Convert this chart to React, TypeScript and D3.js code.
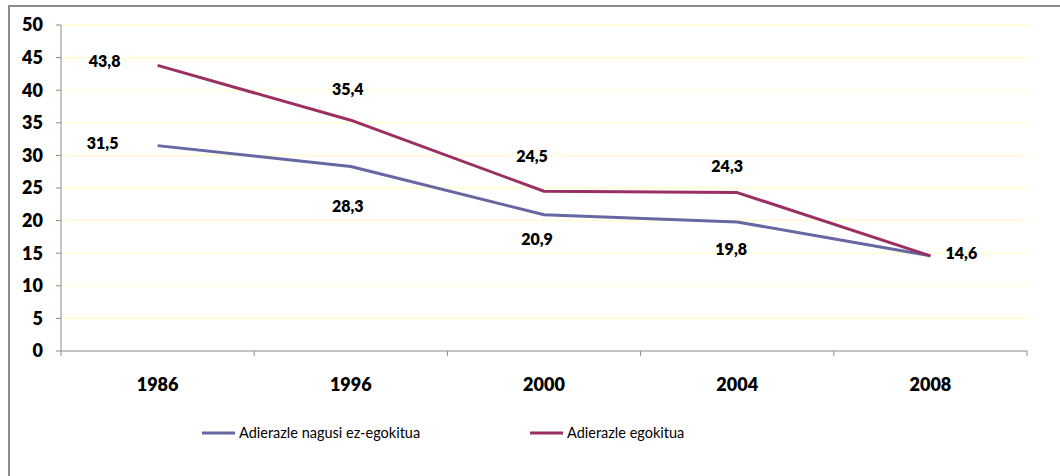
import React from "react";
import * as d3 from "d3";

const years = ["1986", "1996", "2000", "2004", "2008"];
const nonAdjusted = [31.5, 28.3, 20.9, 19.8, 14.6];
const adjusted = [43.8, 35.4, 24.5, 24.3, 14.6];
const yTicks = [0, 5, 10, 15, 20, 25, 30, 35, 40, 45, 50];
const seriesNames = ["Adierazle nagusi ez-egokitua", "Adierazle egokitua"];

// label offsets (px) from each point, per series
const adjustedLabelOffsets: [number, number][] = [
  [-53, -4], [-3, -31], [-12, -35], [-10, -26], [31, -3],
];
const nonAdjustedLabelOffsets: ([number, number] | null)[] = [
  [-55, -2], [-3, 40], [-7, 25], [-6, 27], null,
];

const W = 1060;
const H = 476;
const left = 61;
const right = 1027;
const top = 25;
const bottom = 351;

const BLUE = "#6667a3";
const RED = "#9b2f63";
const FONT = "Lato, 'Open Sans', sans-serif";

export default function App() {
  const x = d3.scaleBand<string>().domain(years).range([left, right]);
  const y = d3.scaleLinear().domain([0, 50]).range([bottom, top]);
  const cx = (i: number) => (x(years[i]) as number) + x.bandwidth() / 2;

  const line = d3
    .line<number>()
    .x((_, i) => cx(i))
    .y((d) => y(d));

  const tickXs = years.map((yr) => x(yr) as number).concat([right]);
  const fmt = (v: number) => String(v).replace(".", ",");

  return (
    <svg
      width={W}
      height={H}
      style={{ position: "absolute", left: 0, top: 0, background: "#fff" }}
    >
      {/* chart frame */}
      <rect x={9} y={6} width={1060} height={480} fill="#fff" stroke="#8c8c8c" strokeWidth={2} />

      {/* gridlines */}
      {yTicks.filter((t) => t > 0).map((t) => (
        <line key={t} x1={left} x2={right} y1={y(t)} y2={y(t)} stroke="#ffffcc" strokeWidth={1.3} />
      ))}

      {/* y axis */}
      <line x1={left} x2={left} y1={top} y2={bottom} stroke="#8a8a8a" strokeWidth={1} />
      {yTicks.map((t) => (
        <g key={t}>
          <line x1={left - 5} x2={left} y1={y(t)} y2={y(t)} stroke="#8a8a8a" />
          <text
            x={43}
            y={y(t)}
            dy="0.36em"
            textAnchor="end"
            fontFamily={FONT}
            fontWeight={800}
            fontSize={18}
            fill="#000"
          >
            {t}
          </text>
        </g>
      ))}

      {/* x axis */}
      <line x1={left} x2={right} y1={bottom} y2={bottom} stroke="#8a8a8a" strokeWidth={1} />
      {tickXs.map((tx, i) => (
        <line key={i} x1={tx} x2={tx} y1={bottom} y2={bottom + 5} stroke="#8a8a8a" />
      ))}
      {years.map((yr, i) => (
        <text
          key={yr}
          x={cx(i)}
          y={385}
          dy="0.36em"
          textAnchor="middle"
          fontFamily={FONT}
          fontWeight={800}
          fontSize={18}
          fill="#000"
        >
          {yr}
        </text>
      ))}

      {/* series */}
      <path d={line(nonAdjusted) ?? ""} fill="none" stroke={BLUE} strokeWidth={3} strokeLinejoin="round" />
      <path d={line(adjusted) ?? ""} fill="none" stroke={RED} strokeWidth={3} strokeLinejoin="round" />

      {/* data labels */}
      {adjusted.map((v, i) => (
        <text
          key={"a" + i}
          x={cx(i) + adjustedLabelOffsets[i][0]}
          y={y(v) + adjustedLabelOffsets[i][1]}
          dy="0.36em"
          textAnchor="middle"
          fontFamily={FONT}
          fontWeight={800}
          fontSize={16}
          fill="#000"
        >
          {fmt(v)}
        </text>
      ))}
      {nonAdjusted.map((v, i) => {
        const off = nonAdjustedLabelOffsets[i];
        if (!off) return null;
        return (
          <text
            key={"n" + i}
            x={cx(i) + off[0]}
            y={y(v) + off[1]}
            dy="0.36em"
            textAnchor="middle"
            fontFamily={FONT}
            fontWeight={800}
            fontSize={16}
            fill="#000"
          >
            {fmt(v)}
          </text>
        );
      })}

      {/* legend */}
      {seriesNames.map((name, i) => {
        const lx = i === 0 ? 202 : 530;
        return (
          <g key={name}>
            <line x1={lx} x2={lx + 33} y1={433} y2={433} stroke={i === 0 ? BLUE : RED} strokeWidth={3} />
            <text
              x={lx + 37}
              y={433}
              dy="0.36em"
              fontFamily={FONT}
              fontSize={14.5}
              fill="#000"
            >
              {name}
            </text>
          </g>
        );
      })}
    </svg>
  );
}
